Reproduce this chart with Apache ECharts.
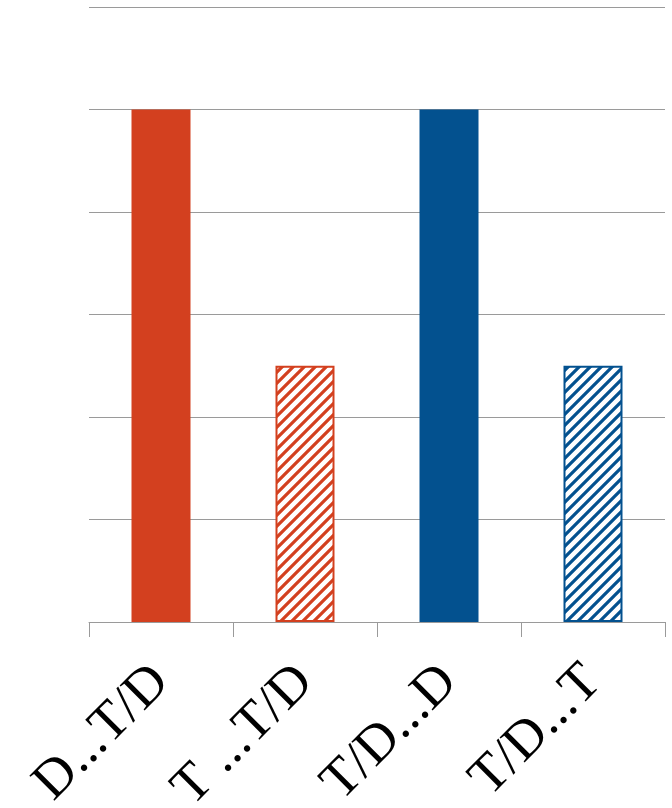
<!DOCTYPE html>
<html>
<head>
<meta charset="utf-8">
<script src="https://cdn.jsdelivr.net/npm/echarts@6/dist/echarts.min.js"></script>
<style>
  html, body { margin: 0; padding: 0; background: #fff; }
  #chart { width: 672px; height: 808px; }
</style>
</head>
<body>
<div id="chart"></div>
<script>
// Categories and values
const categories = ['D...T/D', 'T ...T/D', 'T/D...D', 'T/D...T'];
const values = [5, 2.5, 5, 2.5];
// Which bars are hatched instead of solid
const hatched = [false, true, false, true];
const barColors = ['#D3401F', '#D3401F', '#03518F', '#03518F'];

// Diagonal stripe tile for hatched bars
function stripePattern(color) {
  const s = 11;
  const c = document.createElement('canvas');
  c.width = s; c.height = s;
  const ctx = c.getContext('2d');
  ctx.fillStyle = '#fff';
  ctx.fillRect(0, 0, s, s);
  ctx.strokeStyle = color;
  ctx.lineWidth = 3.2;
  ctx.beginPath();
  ctx.moveTo(-2, s + 2); ctx.lineTo(s + 2, -2);
  ctx.moveTo(-3, 3); ctx.lineTo(3, -3);
  ctx.moveTo(s - 3, s + 3); ctx.lineTo(s + 3, s - 3);
  ctx.stroke();
  return { image: c, repeat: 'repeat' };
}

const seriesData = values.map((v, i) => ({
  value: v,
  itemStyle: hatched[i]
    ? { color: stripePattern(barColors[i]), borderColor: barColors[i], borderWidth: 2 }
    : { color: barColors[i] }
}));

const chart = echarts.init(document.getElementById('chart'), null, { renderer: 'canvas' });
chart.setOption({
  animation: false,
  grid: { left: 89, right: 7, top: 7, bottom: 186, containLabel: false, outerBoundsMode: 'none' },
  xAxis: {
    type: 'category',
    data: categories,
    axisLine: { lineStyle: { color: '#9a9a9a', width: 1 } },
    axisTick: { show: true, length: 15, lineStyle: { color: '#9a9a9a' }, alignWithLabel: false },
    axisLabel: {
      rotate: 45,
      margin: 52,
      interval: 0,
      color: '#000',
      fontFamily: '"Liberation Serif", "DejaVu Serif", serif',
      fontSize: 54
    }
  },
  yAxis: {
    type: 'value',
    min: 0, max: 6, interval: 1,
    axisLine: { show: false },
    axisTick: { show: false },
    axisLabel: { show: false },
    splitLine: { lineStyle: { color: '#9a9a9a', width: 1 } }
  },
  series: [{
    type: 'bar',
    barWidth: 59,
    data: seriesData
  }]
});
</script>
</body>
</html>
